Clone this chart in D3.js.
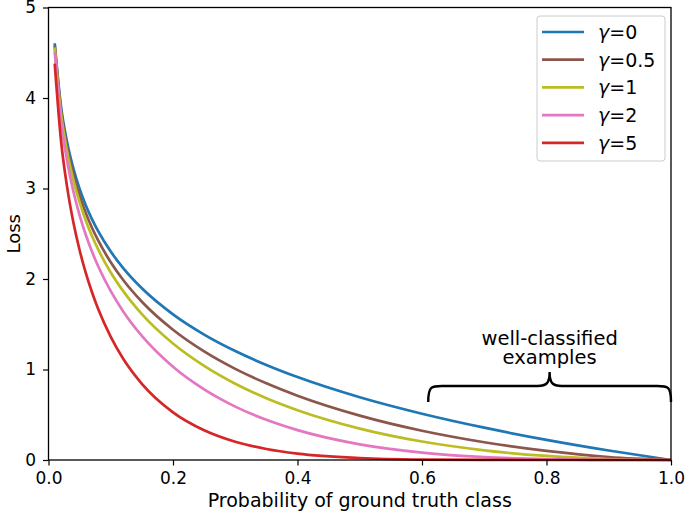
<!DOCTYPE html>
<html><head><meta charset="utf-8">
<script src="https://cdn.jsdelivr.net/npm/d3@7"></script>
<style>body{margin:0;background:#fff}svg{display:block}text{font-family:"DejaVu Sans",sans-serif}</style>
</head><body><svg id="c" width="685" height="513"></svg>
<script>
const probs = [0.01,0.02,0.03,0.04,0.05,0.06,0.07,0.08,0.1,0.12,0.15,0.2,0.25,0.3,0.35,0.4,0.5,0.6,0.7,0.8,0.9,1.0];
const lossG0   = [4.605,3.912,3.507,3.219,2.996,2.813,2.659,2.526,2.303,2.120,1.897,1.609,1.386,1.204,1.050,0.916,0.693,0.511,0.357,0.223,0.105,0];
const lossG05  = [4.582,3.873,3.454,3.154,2.920,2.728,2.564,2.423,2.185,1.989,1.749,1.439,1.200,1.007,0.847,0.710,0.490,0.323,0.196,0.100,0.033,0];
const lossG1   = [4.559,3.834,3.402,3.090,2.846,2.644,2.473,2.324,2.072,1.866,1.612,1.287,1.040,0.843,0.682,0.550,0.347,0.204,0.107,0.045,0.011,0];
const lossG2   = [4.513,3.757,3.300,2.967,2.704,2.486,2.300,2.138,1.865,1.642,1.371,1.030,0.780,0.590,0.444,0.330,0.173,0.082,0.032,0.009,0.001,0];
const lossG5   = [4.380,3.536,3.012,2.624,2.318,2.065,1.851,1.665,1.360,1.119,0.842,0.527,0.329,0.202,0.122,0.071,0.022,0.005,0.001,0,0,0];
const seriesGammas = ["0","0.5","1","2","5"];
const seriesColors = ["#1f77b4","#8c564b","#bcbd22","#e377c2","#d62728"];
const xTicks = [0,0.2,0.4,0.6,0.8,1.0];
const yTicks = [0,1,2,3,4,5];
const xLabel = "Probability of ground truth class";
const yLabel = "Loss";
const noteLines = ["well-classified","examples"];
const braceRange = [0.61,1.0];

const series = [lossG0,lossG05,lossG1,lossG2,lossG5];
const svg = d3.select("#c");
const L=48.5,R=671,T=7.5,B=460;
const x = d3.scaleLinear().domain([0,1]).range([L,R]);
const y = d3.scaleLinear().domain([0,5]).range([B,T]);

const line = d3.line().x((d,i)=>x(probs[i])).y(d=>y(d)).curve(d3.curveMonotoneX);
const g = svg.append("g");
series.forEach((s,k)=>{
  g.append("path").attr("d",line(s)).attr("fill","none")
   .attr("stroke",seriesColors[k]).attr("stroke-width",2.7).attr("stroke-linecap","butt");
});

// frame
svg.append("rect").attr("x",L).attr("y",T).attr("width",R-L).attr("height",B-T)
  .attr("fill","none").attr("stroke","#000").attr("stroke-width",1.3);

const xa = svg.append("g").attr("transform",`translate(0,${B})`)
  .call(d3.axisBottom(x).tickValues(xTicks).tickFormat(d3.format(".1f")).tickSize(5.5).tickPadding(6));
const ya = svg.append("g").attr("transform",`translate(${L},0)`)
  .call(d3.axisLeft(y).tickValues(yTicks).tickFormat(d3.format("d")).tickSize(5.5).tickPadding(7));
[xa,ya].forEach(a=>{
  a.select(".domain").remove();
  a.selectAll(".tick line").attr("stroke","#000").attr("stroke-width",1.2);
  a.selectAll("text").attr("font-size",17).attr("fill","#000").attr("font-family","DejaVu Sans");
});

svg.append("text").attr("x",(L+R)/2).attr("y",507).attr("text-anchor","middle")
  .attr("font-size",19).text(xLabel);
svg.append("text").attr("transform",`translate(20,${(T+B)/2}) rotate(-90)`).attr("text-anchor","middle")
  .attr("font-size",18).text(yLabel);

// brace
const bx0=x(braceRange[0]), bx1=x(braceRange[1]), bm=(bx0+bx1)/2;
const yb=402, yt=386, ytip=372;
const bp = `M${bx0},${yb} C${bx0},${yt-1} ${bx0+4},${yt} ${bx0+16},${yt} L${bm-12},${yt} C${bm-3},${yt} ${bm},${yt-3} ${bm},${ytip} C${bm},${yt-3} ${bm+3},${yt} ${bm+12},${yt} L${bx1-16},${yt} C${bx1-4},${yt} ${bx1},${yt-1} ${bx1},${yb}`;
svg.append("path").attr("d",bp).attr("fill","none").attr("stroke","#000").attr("stroke-width",2.4);
noteLines.forEach((t,i)=>{
  svg.append("text").attr("x",bm).attr("y",345+i*18.5).attr("text-anchor","middle").attr("font-size",19.5).text(t);
});

// legend
const lg = svg.append("g");
lg.append("rect").attr("x",537).attr("y",16).attr("width",128).attr("height",145).attr("rx",3)
  .attr("fill","#fff").attr("fill-opacity",0.8).attr("stroke","#ccc").attr("stroke-width",1);
seriesGammas.forEach((n,k)=>{
  const yy = 32 + k*27.7;
  lg.append("line").attr("x1",542).attr("x2",584).attr("y1",yy).attr("y2",yy)
    .attr("stroke",seriesColors[k]).attr("stroke-width",2.7);
  const t = lg.append("text").attr("x",598).attr("y",yy+7).attr("font-size",19);
  t.append("tspan").attr("font-style","italic").text("γ");
  t.append("tspan").text("=" + n);
});
</script></body></html>
